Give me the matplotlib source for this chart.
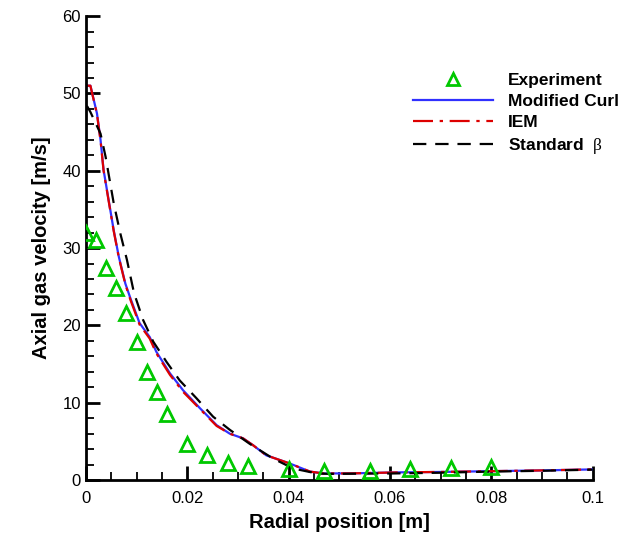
import matplotlib.pyplot as plt
from matplotlib.ticker import MultipleLocator, FuncFormatter

plt.rcParams["font.family"] = ["Liberation Sans", "DejaVu Sans"]
plt.rcParams["mathtext.fontset"] = "custom"
plt.rcParams["mathtext.rm"] = "Liberation Serif"

# experiment
exp_r = [0.0, 0.002, 0.004, 0.006, 0.008, 0.010, 0.012, 0.014, 0.016,
         0.020, 0.024, 0.028, 0.032, 0.040, 0.047, 0.056, 0.064, 0.072, 0.080]
exp_u = [31.9, 31.0, 27.4, 24.8, 21.6, 17.8, 14.0, 11.4, 8.5,
         4.7, 3.2, 2.2, 1.8, 1.4, 1.2, 1.2, 1.4, 1.5, 1.7]

# modified curl
curl_r = [0.0, 0.0009, 0.0022, 0.0029, 0.0035, 0.0045, 0.0055, 0.0065, 0.0078,
          0.0088, 0.0106, 0.0126, 0.0139, 0.0166, 0.0192, 0.0225, 0.0258,
          0.0284, 0.031, 0.033, 0.0356, 0.0402, 0.0442, 0.0468, 0.052, 0.062,
          0.07, 0.0817, 0.09, 0.1]
curl_u = [51.0, 51.0, 47.4, 44.0, 40.1, 36.2, 32.3, 28.9, 25.4,
          23.5, 20.3, 18.5, 16.6, 13.8, 11.6, 9.3, 7.1,
          6.0, 5.4, 4.5, 3.2, 2.15, 1.1, 0.86, 0.86, 1.0,
          1.05, 1.17, 1.25, 1.38]

# IEM
iem_r = [0.0, 0.0009, 0.0022, 0.0029, 0.0035, 0.0045, 0.0055, 0.0065, 0.0078,
         0.0088, 0.0106, 0.0126, 0.0139, 0.0166, 0.0192, 0.0225, 0.0258,
         0.0284, 0.031, 0.033, 0.0356, 0.0402, 0.0442, 0.0468, 0.052, 0.062,
         0.07, 0.0817, 0.09, 0.1]
iem_u = [51.0, 51.0, 47.3, 43.9, 40.0, 36.1, 32.2, 28.8, 25.3,
         23.3, 20.1, 18.3, 16.4, 13.6, 11.4, 9.2, 7.0,
         6.0, 5.4, 4.5, 3.2, 2.15, 1.1, 0.86, 0.86, 1.0,
         1.05, 1.17, 1.25, 1.38]

# standard beta
beta_r = [0.0, 0.0003, 0.0009, 0.0029, 0.0039, 0.0055, 0.0068, 0.0081, 0.0095,
          0.0113, 0.0133, 0.0159, 0.0185, 0.0218, 0.0251, 0.0284, 0.0323,
          0.0369, 0.0409, 0.0455, 0.048, 0.06, 0.07, 0.08, 0.09, 0.1]
beta_u = [48.3, 48.3, 47.6, 44.8, 41.8, 35.8, 31.9, 28.5, 24.2,
          20.7, 17.9, 15.3, 12.9, 10.6, 8.2, 6.5, 4.7,
          2.8, 1.5, 0.86, 0.8, 0.85, 0.95, 1.1, 1.2, 1.35]

fig = plt.figure(figsize=(6.22, 5.37), dpi=100)
ax = fig.add_axes([0.138, 0.106, 0.815, 0.864])

ax.plot(exp_r, exp_u, linestyle="none", marker="^", markersize=10,
        markerfacecolor="none", markeredgecolor="#00c800", markeredgewidth=2,
        label="Experiment", zorder=5)
ax.plot(curl_r, curl_u, color="#3030ff", linewidth=1.6, label="Modified Curl")
ax.plot(iem_r, iem_u, color="#dd0000", linewidth=1.6,
        dashes=(9, 3, 1.5, 3), label="IEM")
ax.plot(beta_r, beta_u, color="black", linewidth=1.6,
        dashes=(6, 4), label=r"Standard  $\mathrm{\beta}$")

ax.set_xlim(0, 0.1)
ax.set_ylim(0, 60)
ax.xaxis.set_major_locator(MultipleLocator(0.02))
ax.xaxis.set_minor_locator(MultipleLocator(0.005))
ax.yaxis.set_major_locator(MultipleLocator(10))
ax.yaxis.set_minor_locator(MultipleLocator(2))
ax.xaxis.set_major_formatter(FuncFormatter(lambda v, p: "0" if v == 0 else f"{v:g}"))

for side in ("top", "right"):
    ax.spines[side].set_visible(False)
for side in ("left", "bottom"):
    ax.spines[side].set_linewidth(2)

ax.tick_params(which="both", direction="in", labelsize=12, width=1.3)
ax.tick_params(which="major", length=10, width=2)
ax.tick_params(which="minor", length=6)
ax.tick_params(axis="x", pad=8)

ax.set_xlabel("Radial position [m]", fontsize=14.5, fontweight="bold", labelpad=5)
ax.set_ylabel("Axial gas velocity [m/s]", fontsize=14.5, fontweight="bold", labelpad=8)

leg = ax.legend(loc="upper left", bbox_to_anchor=(0.645, 0.878), frameon=False,
                borderpad=0, borderaxespad=0,
                handlelength=4.6, handletextpad=0.86, labelspacing=0.34,
                markerscale=0.8, prop={"weight": "bold", "size": 12.5})

fig.savefig("out.png", dpi=100)
